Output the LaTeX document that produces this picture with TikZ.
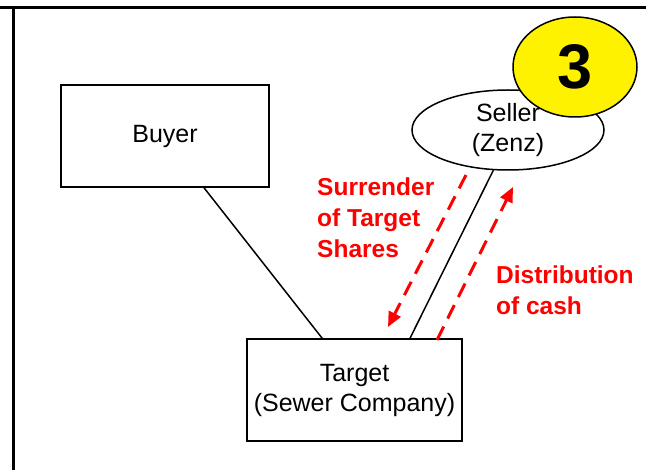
\documentclass[tikz,border=0pt]{standalone}
\usepackage{fontspec}
\setmainfont{Liberation Sans}
\usetikzlibrary{arrows.meta,shapes.geometric,positioning}

\begin{document}
\begin{tikzpicture}[x=1pt,y=-1pt,
    font=\fontsize{25}{30}\selectfont,
    party/.style={draw,line width=1.5pt,inner sep=0pt,align=center},
    flow/.style={red,line width=3pt,dash pattern=on 15pt off 9pt,
      -{Triangle[length=15pt,width=13pt]}},
    note/.style={red,font=\fontsize{24.5}{31}\selectfont\bfseries,
      align=left,inner sep=0pt,anchor=north west}]
      \useasboundingbox (0,0) rectangle (646,470);
      % frame rules
      \draw[line width=3pt] (0,7.5) -- (646,7.5);
      \draw[line width=3pt] (13.5,6) -- (13.5,470);
      % parties
      \node[party,minimum width=208pt,minimum height=102pt] (buyer) at (165,136) {Buyer};
      \node[party,minimum width=215pt,minimum height=102pt] (target) at (354.5,390) {Target\\(Sewer Company)};
      \node[party,ellipse,fill=white,minimum width=192pt,minimum height=80pt] (seller) at (508,130) {Seller\\(Zenz)};
      \node[party,ellipse,fill=yellow,minimum width=124pt,minimum height=100pt,
        font=\fontsize{63}{63}\selectfont\bfseries] (step3) at (575,67) {3};
      % ownership lines
      \draw[line width=1.5pt] (buyer.-53) -- (target.122);
      \draw[line width=1.5pt] (seller.-110) -- (target.43);
      % share and cash flows
      \coordinate (shares from) at (466,175);
      \coordinate (shares to) at (388,327);
      \coordinate (cash from) at (437,340);
      \coordinate (cash to) at (513,187);
      \draw[flow] (shares from) -- (shares to);
      \draw[flow] (cash from) -- (cash to);
      \node[note] (surrender) at (317,178) {Surrender\\of Target\\Shares};
      \node[note] (distribution) at (496,266) {Distribution\\of cash};
\end{tikzpicture}
\end{document}
